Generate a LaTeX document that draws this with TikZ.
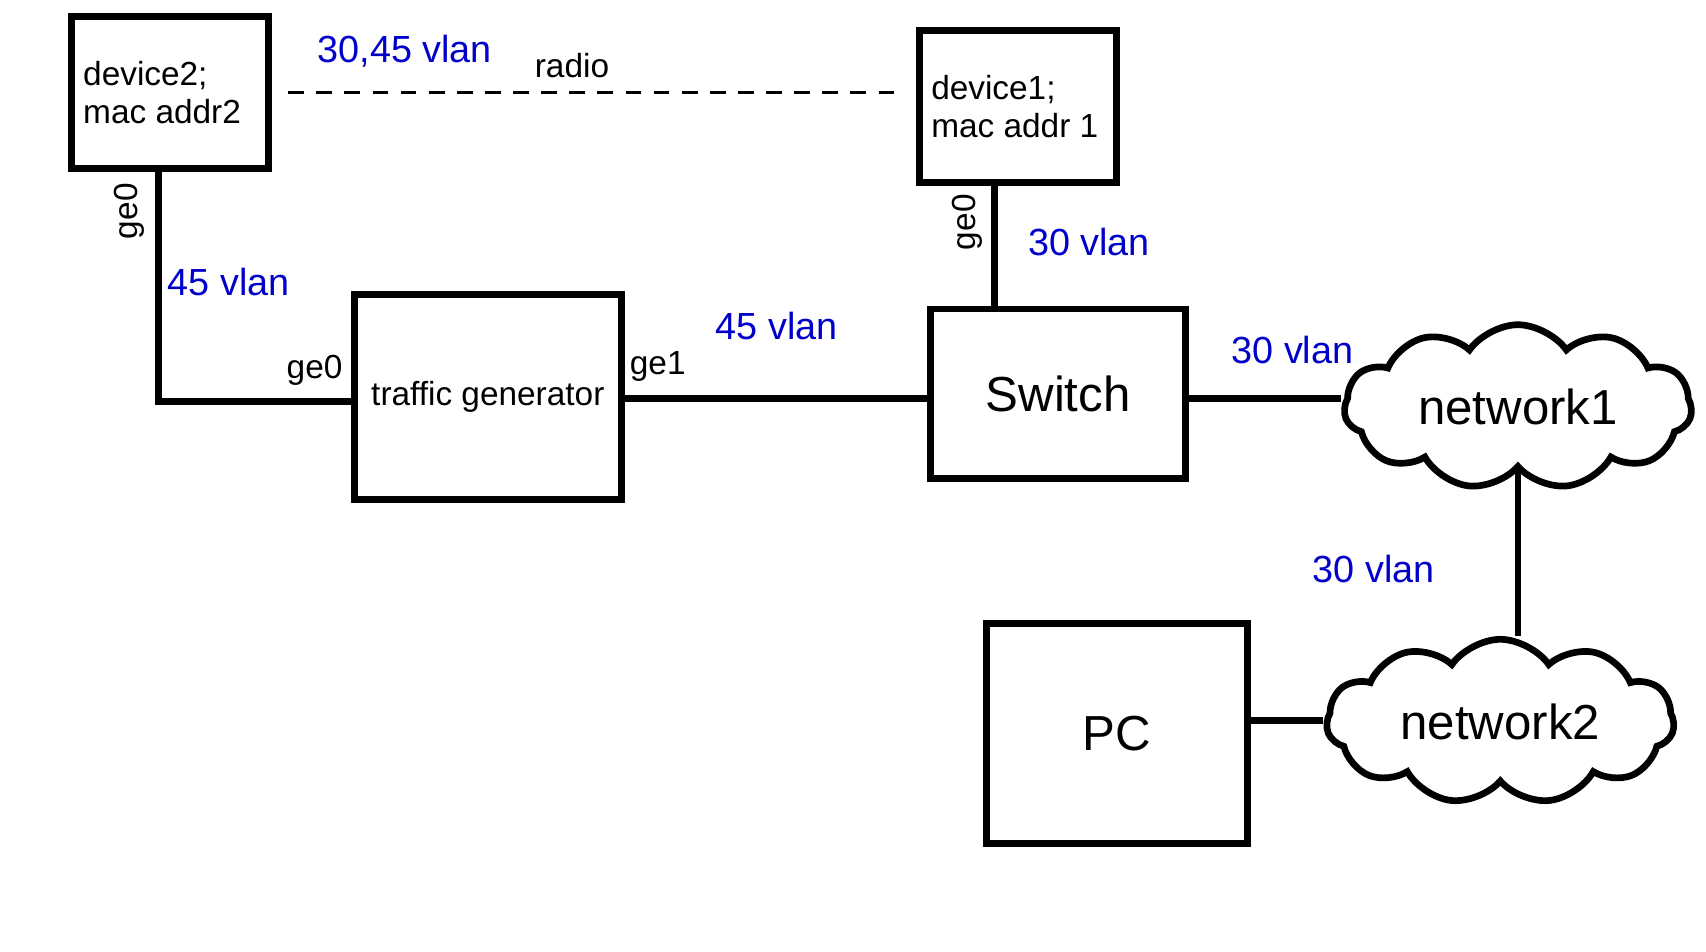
\documentclass[tikz,border=0pt]{standalone}
\usepackage{fontspec}
\setmainfont{Liberation Sans}
\usetikzlibrary{shapes.symbols}
\definecolor{lblue}{RGB}{0,0,200}
\begin{document}
\begin{tikzpicture}[x=0.022cm,y=-0.022cm,
  box/.style={draw,line width=3.8pt,inner sep=0pt},
  ln/.style={line width=3.8pt},
  sm/.style={font=\fontsize{19}{22}\selectfont},
  vl/.style={text=lblue,font=\fontsize{21.5}{26}\selectfont},
  big/.style={font=\fontsize{28}{32}\selectfont},
  cl/.style={draw,cloud,cloud puffs=11,cloud puff arc=110,line width=3.8pt,inner sep=0pt,big,aspect=2.2}]
\useasboundingbox (0,0) rectangle (1551,865);
\node[box,minimum width=179*0.022cm,minimum height=138*0.022cm] (d2) at (154.5,84) {};
\node[sm,anchor=west,align=left] (d2t) at (70,84) {device2;\\mac addr2};
\node[box,minimum width=179*0.022cm,minimum height=138*0.022cm] (d1) at (925.5,97) {};
\node[sm,anchor=west,align=left] (d1t) at (841,97) {device1;\\mac addr 1};
\node[box,minimum width=243*0.022cm,minimum height=186*0.022cm,sm] (tg) at (443.5,361) {traffic generator};
\node[box,minimum width=232*0.022cm,minimum height=154*0.022cm,big] (sw) at (962,358) {Switch};
\node[box,minimum width=237*0.022cm,minimum height=200*0.022cm,big] (pc) at (1015.5,667) {PC};
\node[cl,minimum width=316*0.022cm,minimum height=142*0.022cm] (n1) at (1380,370) {network1};
\node[cl,minimum width=316*0.022cm,minimum height=142*0.022cm] (n2) at (1364,656) {network2};
\coordinate (c1) at (144,365);
\draw[ln] (d2.south -| c1) -- (c1) -- (tg.west |- c1);
\draw[ln] (tg.east |- 0,362) -- (sw.west |- 0,362);
\draw[ln] (d1.south -| 904,0) -- (sw.north -| 904,0);
\draw[ln] (sw.east |- 0,362) -- (n1.west |- 0,362);
\draw[ln] (n1.south -| 1380,0) -- (n2.north -| 1380,0);
\draw[ln] (pc.east |- 0,655) -- (n2.west |- 0,655);
\coordinate (r1) at (262,84);
\coordinate (r2) at (818,84);
\draw[line width=1.3pt,dash pattern=on 9pt off 7pt] (r1) -- (r2);
\node[vl] (l1) at (368,47) {30,45 vlan};
\node[sm] (l2) at (520,60) {radio};
\node[sm,rotate=90] (l3) at (118,192) {ge0};
\node[vl] (l4) at (208,256) {45 vlan};
\node[sm] (l5) at (286,337) {ge0};
\node[sm] (l6) at (598,333) {ge1};
\node[vl] (l7) at (706,296) {45 vlan};
\node[sm,rotate=90] (l8) at (879,202) {ge0};
\node[vl] (l9) at (990,220) {30 vlan};
\node[vl] (l10) at (1175,318) {30 vlan};
\node[vl] (l11) at (1249,517) {30 vlan};
\end{tikzpicture}
\end{document}
